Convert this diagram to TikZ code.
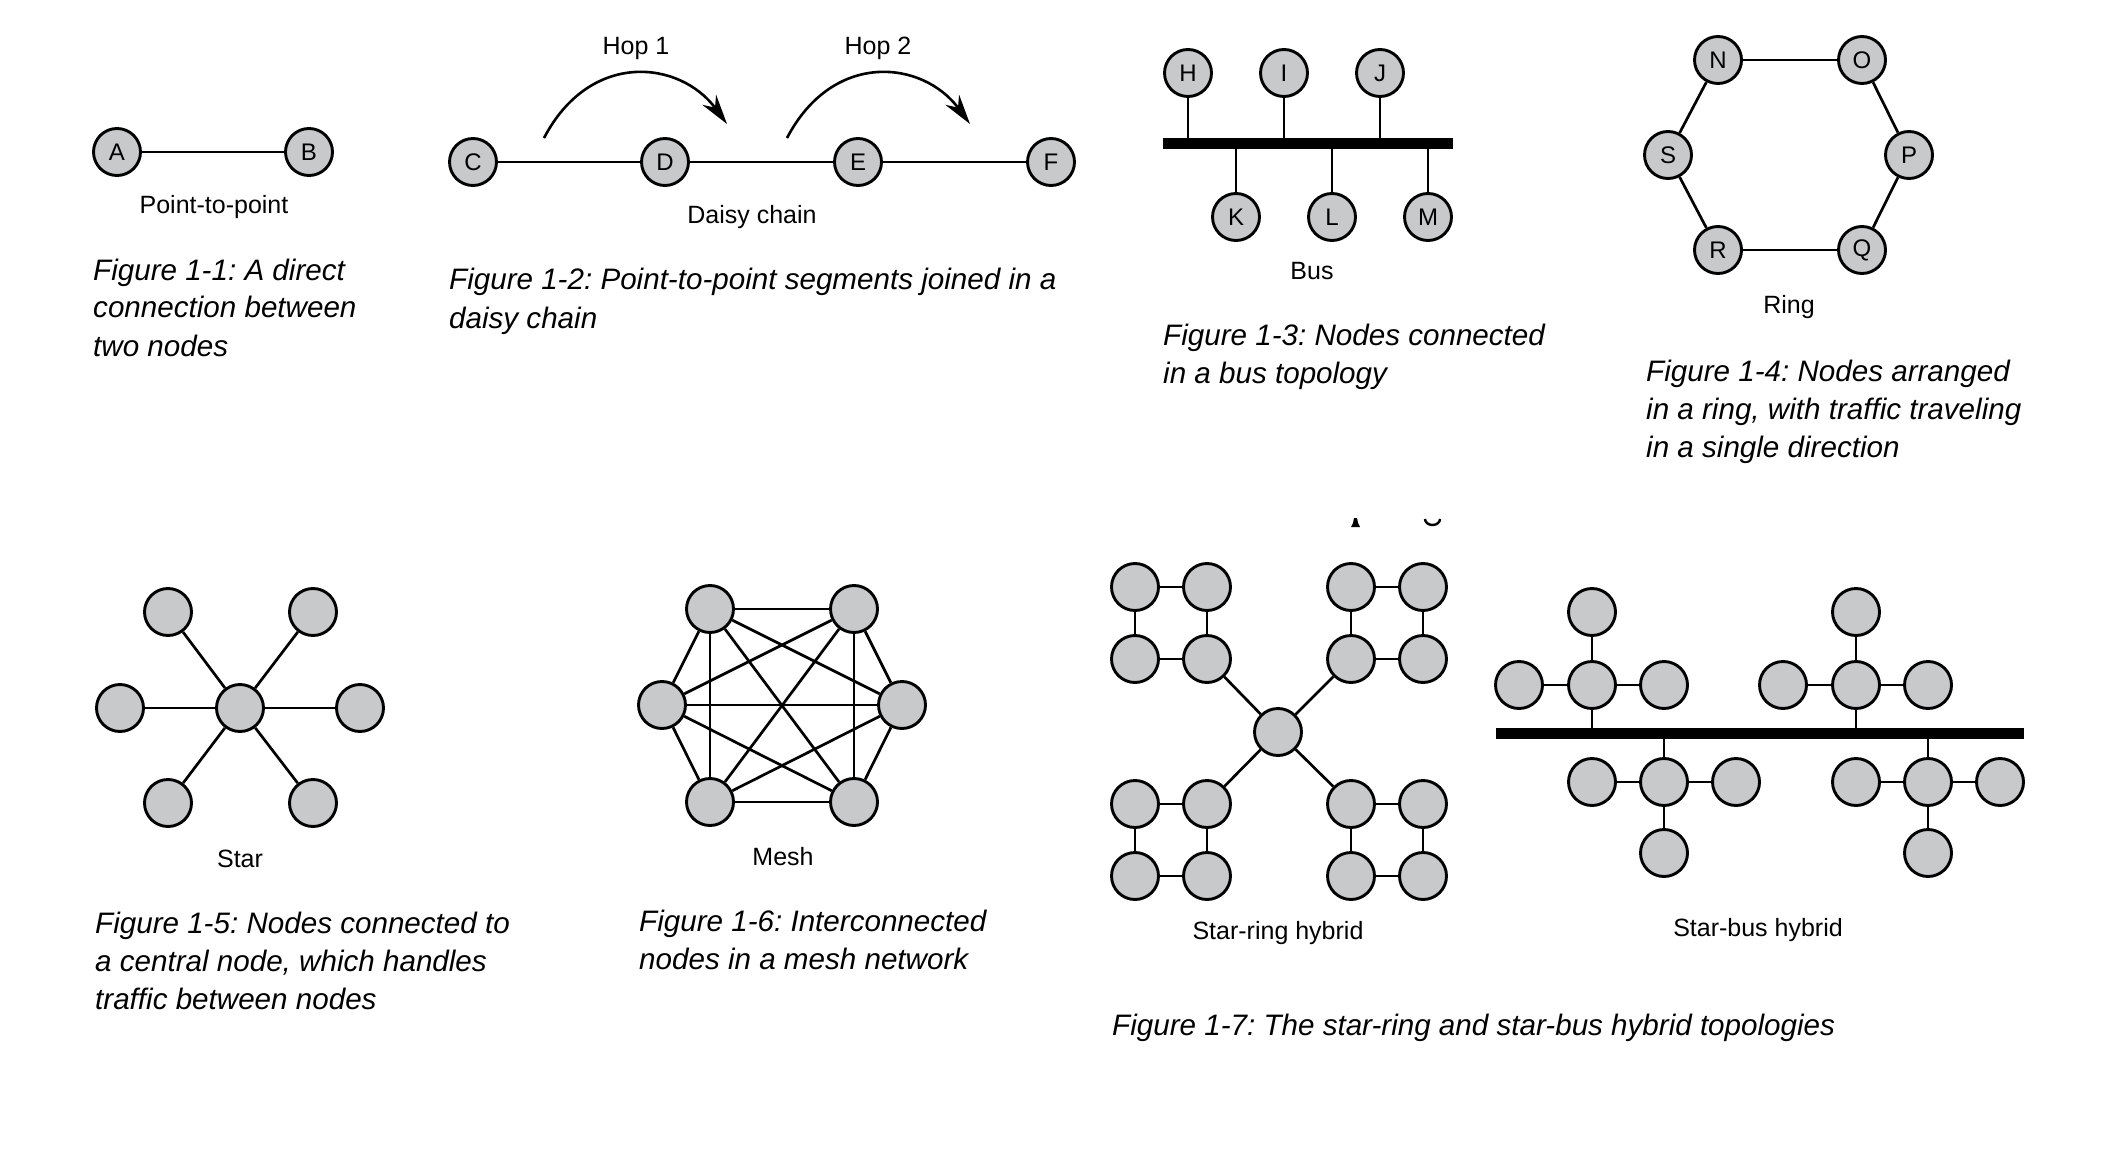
\documentclass[tikz,border=0pt]{standalone}
\usepackage{fontspec}
\setmainfont{Liberation Sans}
\usetikzlibrary{arrows.meta}
\definecolor{nodegray}{RGB}{200,201,203}
\frenchspacing
\begin{document}
\begin{tikzpicture}[x=1pt,y=-1pt,
  nd/.style={circle,draw,line width=2.9pt,fill=nodegray,minimum size=47pt,inner sep=0pt,font=\fontsize{24}{28}\selectfont},
  ln/.style={line width=2.7pt},
  lbl/.style={font=\fontsize{25}{30}\selectfont,inner sep=0pt},
  captxt/.style={font=\fontsize{29.6}{38}\selectfont\itshape\frenchspacing,inner sep=0pt,anchor=base west},
  busbar/.style={line width=11pt},
  hoparrow/.style={line width=2.6pt,-{Stealth[length=30pt,width=17pt]}}]
\useasboundingbox[fill=white] (0,0) rectangle (2112,1158);

% ---------- Figure 1-1
\node[nd] (A) at (117,152) {A};
\node[nd] (B) at (309,152) {B};
\draw[ln] (A) -- (B);
\node[lbl] (l11) at (214,207) {Point-to-point};
\node[captxt] (c11a) at (93,280) {Figure 1-1: A direct};
\node[captxt] (c11b) at (93,318) {connection between};
\node[captxt] (c11c) at (93,356) {two nodes};

% ---------- Figure 1-2
\node[nd] (C) at (473,162) {C};
\node[nd] (D) at (665,162) {D};
\node[nd] (E) at (858,162) {E};
\node[nd] (F) at (1051,162) {F};
\draw[ln] (C) -- (D); \draw[ln] (D) -- (E); \draw[ln] (E) -- (F);
\coordinate (h1s) at (544,138); \coordinate (h1e) at (727,124);
\coordinate (h2s) at (787,138); \coordinate (h2e) at (970,124);
\draw[hoparrow] (h1s) .. controls (590,50) and (680,60) .. (h1e);
\draw[hoparrow] (h2s) .. controls (833,50) and (923,60) .. (h2e);
\node[lbl] (hop1) at (636,48) {Hop 1};
\node[lbl] (hop2) at (878,48) {Hop 2};
\node[lbl] (l12) at (752,217) {Daisy chain};
\node[captxt] (c12a) at (449,290) {Figure 1-2: Point-to-point segments joined in a};
\node[captxt] (c12b) at (449,328) {daisy chain};

% ---------- Figure 1-3
\coordinate (bl) at (1163,143.5); \coordinate (br) at (1453,143.5);
\draw[busbar] (bl) -- (br);
\foreach \n/\x in {H/1188,I/1284,J/1380}{
  \node[nd] (\n) at (\x,73) {\n};
  \draw[ln] (\n) -- (\n |- bl);
}
\foreach \n/\x in {K/1236,L/1332,M/1428}{
  \node[nd] (\n) at (\x,217) {\n};
  \draw[ln] (\n) -- (\n |- bl);
}
\node[lbl] (l13) at (1312,271) {Bus};
\node[captxt] (c13a) at (1163,345) {Figure 1-3: Nodes connected};
\node[captxt] (c13b) at (1163,383) {in a bus topology};

% ---------- Figure 1-4
\node[nd] (N) at (1718,60) {N};
\node[nd] (O) at (1862,60) {O};
\node[nd] (P) at (1909,155) {P};
\node[nd] (Q) at (1862,250) {Q};
\node[nd] (R) at (1718,250) {R};
\node[nd] (S) at (1668,155) {S};
\draw[ln] (N) -- (O); \draw[ln] (O) -- (P); \draw[ln] (P) -- (Q);
\draw[ln] (Q) -- (R); \draw[ln] (R) -- (S); \draw[ln] (S) -- (N);
\node[lbl] (l14) at (1789,307) {Ring};
\node[captxt] (c14a) at (1646,381) {Figure 1-4: Nodes arranged};
\node[captxt] (c14b) at (1646,419) {in a ring, with traffic traveling};
\node[captxt] (c14c) at (1646,457) {in a single direction};

% ---------- Figure 1-5
\node[nd] (sc) at (240,708) {};
\node[nd] (s1) at (168,612) {};
\node[nd] (s2) at (313,612) {};
\node[nd] (s3) at (120,708) {};
\node[nd] (s4) at (360,708) {};
\node[nd] (s5) at (168,803) {};
\node[nd] (s6) at (313,803) {};
\foreach \i in {1,...,6}{\draw[ln] (sc) -- (s\i);}
\node[lbl] (l15) at (240,859) {Star};
\node[captxt] (c15a) at (95,933) {Figure 1-5: Nodes connected to};
\node[captxt] (c15b) at (95,971) {a central node, which handles};
\node[captxt] (c15c) at (95,1009) {traffic between nodes};

% ---------- Figure 1-6
\node[nd] (m1) at (710,609) {};
\node[nd] (m2) at (854,609) {};
\node[nd] (m3) at (902,705) {};
\node[nd] (m4) at (854,802) {};
\node[nd] (m5) at (710,802) {};
\node[nd] (m6) at (662,705) {};
\foreach \i/\j in {1/2,1/3,1/4,1/5,1/6,2/3,2/4,2/5,2/6,3/4,3/5,3/6,4/5,4/6,5/6}{
  \draw[ln] (m\i) -- (m\j);
}
\node[lbl] (l16) at (783,857) {Mesh};
\node[captxt] (c16a) at (639,931) {Figure 1-6: Interconnected};
\node[captxt] (c16b) at (639,969) {nodes in a mesh network};

% ---------- Figure 1-7: star-ring hybrid
\node[nd] (rc) at (1278,732) {};
\foreach \g/\xa/\xb/\ya/\yb in {tl/1135/1207/587/659, tr/1351/1423/587/659, bl/1135/1207/804/876, br/1351/1423/804/876}{
  \node[nd] (\g a) at (\xa,\ya) {};
  \node[nd] (\g b) at (\xb,\ya) {};
  \node[nd] (\g c) at (\xa,\yb) {};
  \node[nd] (\g d) at (\xb,\yb) {};
  \draw[ln] (\g a) -- (\g b); \draw[ln] (\g c) -- (\g d);
  \draw[ln] (\g a) -- (\g c); \draw[ln] (\g b) -- (\g d);
}
\draw[ln] (rc) -- (tld); \draw[ln] (rc) -- (trc);
\draw[ln] (rc) -- (blb); \draw[ln] (rc) -- (bra);
\node[lbl] (l17a) at (1278,933) {Star-ring hybrid};

% ---------- Figure 1-7: star-bus hybrid
\coordinate (sbl) at (1496,733); \coordinate (sbr) at (2024,733);
\draw[busbar] (sbl) -- (sbr);
\foreach \g/\x in {u1/1592,u2/1856}{
  \node[nd] (\g c) at (\x,685) {};
  \node[nd] (\g t) at (\x,612) {};
  \node[nd] (\g l) at (\x-73,685) {};
  \node[nd] (\g r) at (\x+72,685) {};
  \draw[ln] (\g c) -- (\g t); \draw[ln] (\g c) -- (\g l); \draw[ln] (\g c) -- (\g r);
  \draw[ln] (\g c) -- (\g c |- sbl);
}
\foreach \g/\x in {d1/1664,d2/1928}{
  \node[nd] (\g c) at (\x,782) {};
  \node[nd] (\g b) at (\x,853) {};
  \node[nd] (\g l) at (\x-72,782) {};
  \node[nd] (\g r) at (\x+72,782) {};
  \draw[ln] (\g c) -- (\g b); \draw[ln] (\g c) -- (\g l); \draw[ln] (\g c) -- (\g r);
  \draw[ln] (\g c) -- (\g c |- sbl);
}
\node[lbl] (l17b) at (1758,930) {Star-bus hybrid};
\node[captxt] (c17) at (1112,1035) {Figure 1-7: The star-ring and star-bus hybrid topologies};

% ---------- stray glyph fragments
\fill (1351,527) -- (1360,527) -- (1358,523) -- (1357,518) -- (1354,518) -- (1353,523) -- cycle;
\draw[line width=2.4pt] (1425,519) arc[start angle=180,end angle=360,x radius=7.5pt,y radius=6pt];
\end{tikzpicture}
\end{document}
